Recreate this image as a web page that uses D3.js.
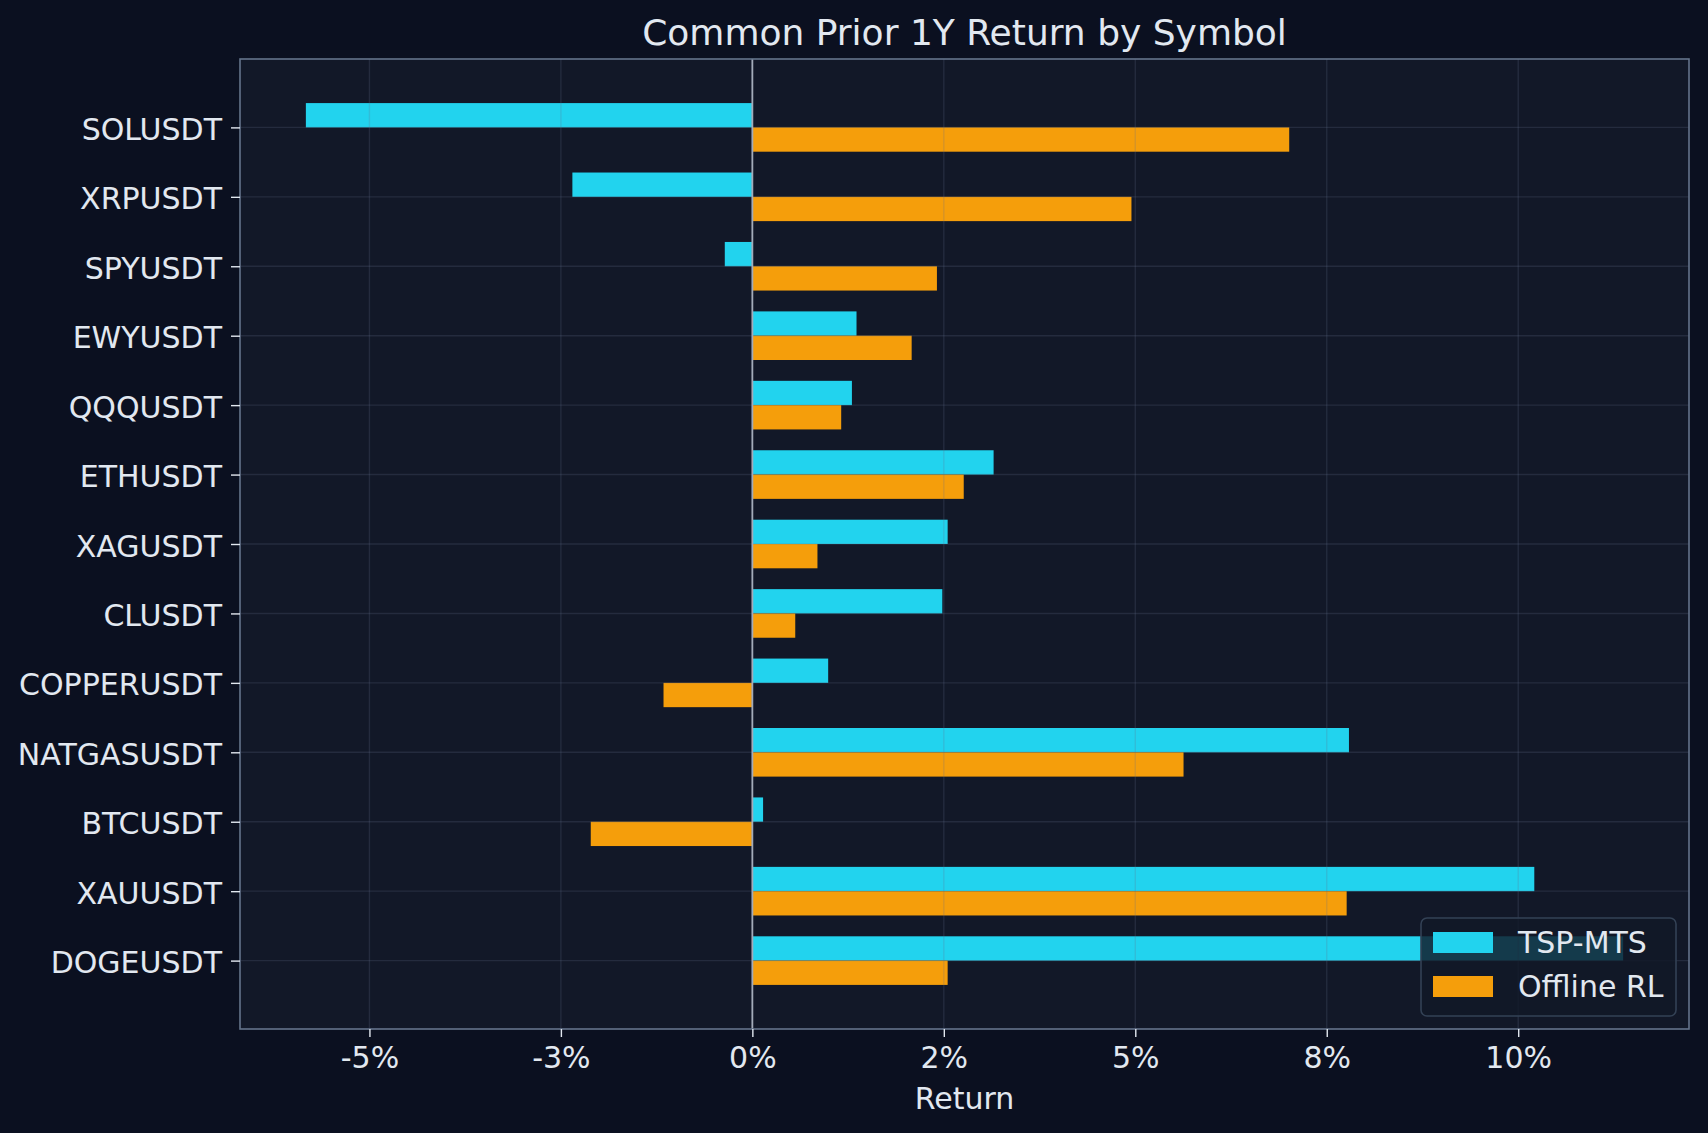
<!DOCTYPE html>
<html lang="en">
<head>
    <meta charset="UTF-8">
    <title>Common Prior 1Y Return by Symbol</title>
    <script src="https://d3js.org/d3.v7.min.js"></script>
    <style>
        body {
            margin: 0;
            padding: 0;
            background: #0b1020;
            overflow: hidden;
        }
        text {
            font-family: 'DejaVu Sans', sans-serif;
            fill: #e2e8f0;
        }
        .grid line {
            stroke: #64748b;
            stroke-width: 1.4px;
            stroke-opacity: 0.22;
        }
    </style>
</head>
<body>
<div id="chart"></div>

<script>
// symbols, top to bottom
const symbols = ["SOLUSDT", "XRPUSDT", "SPYUSDT", "EWYUSDT", "QQQUSDT", "ETHUSDT", "XAGUSDT",
    "CLUSDT", "COPPERUSDT", "NATGASUSDT", "BTCUSDT", "XAUUSDT", "DOGEUSDT"];

// prior 1Y return in percent
const tspMts = [-5.83, -2.35, -0.36, 1.36, 1.30, 3.15, 2.55, 2.48, 0.99, 7.79, 0.14, 10.21, 11.37];
const offlineRl = [7.01, 4.95, 2.41, 2.08, 1.16, 2.76, 0.85, 0.56, -1.16, 5.63, -2.11, 7.76, 2.55];

const seriesNames = ["TSP-MTS", "Offline RL"];
const seriesColors = ["#22d3ee", "#f59e0b"];

const xTicks = [-5, -2.5, 0, 2.5, 5, 7.5, 10];
const xTickLabels = ["-5%", "-3%", "0%", "2%", "5%", "8%", "10%"];

const W = 1708, H = 1133;
const m = {left: 240, right: 1689, top: 59, bottom: 1029};
const barH = 0.35;

const svg = d3.select("#chart").append("svg")
    .attr("width", W)
    .attr("height", H);

svg.append("rect").attr("width", W).attr("height", H).attr("fill", "#0b1020");

// x domain with 5% padding like matplotlib
const allVals = tspMts.concat(offlineRl);
const lo = Math.min(0, d3.min(allVals)), hi = Math.max(0, d3.max(allVals));
const pad = (hi - lo) * 0.05;
const x = d3.scaleLinear().domain([lo - pad, hi + pad]).range([m.left, m.right]);

const yLo = -barH, yHi = symbols.length - 1 + barH;
const yPad = (yHi - yLo) * 0.05;
const y = d3.scaleLinear().domain([yLo - yPad, yHi + yPad]).range([m.top, m.bottom]);

// axes background
svg.append("rect")
    .attr("x", m.left).attr("y", m.top)
    .attr("width", m.right - m.left).attr("height", m.bottom - m.top)
    .attr("fill", "#121828");

// bars
const bars = svg.append("g");
bars.selectAll("rect.tsp")
    .data(tspMts)
    .enter().append("rect")
    .attr("class", "tsp")
    .attr("x", d => x(Math.min(0, d)))
    .attr("width", d => Math.abs(x(d) - x(0)))
    .attr("y", (d, i) => y(i - barH))
    .attr("height", y(barH) - y(0))
    .attr("fill", seriesColors[0]);

bars.selectAll("rect.off")
    .data(offlineRl)
    .enter().append("rect")
    .attr("class", "off")
    .attr("x", d => x(Math.min(0, d)))
    .attr("width", d => Math.abs(x(d) - x(0)))
    .attr("y", (d, i) => y(i))
    .attr("height", y(barH) - y(0))
    .attr("fill", seriesColors[1]);

// grid on top of bars, faint
const grid = svg.append("g").attr("class", "grid");
grid.selectAll("line.gx")
    .data(xTicks)
    .enter().append("line")
    .attr("x1", d => x(d)).attr("x2", d => x(d))
    .attr("y1", m.top).attr("y2", m.bottom);
grid.selectAll("line.gy")
    .data(symbols)
    .enter().append("line")
    .attr("x1", m.left).attr("x2", m.right)
    .attr("y1", (d, i) => y(i)).attr("y2", (d, i) => y(i));

// zero line
svg.append("line")
    .attr("x1", x(0)).attr("x2", x(0))
    .attr("y1", m.top).attr("y2", m.bottom)
    .attr("stroke", "#a3abb9")
    .attr("stroke-width", 1.8);

// frame
svg.append("rect")
    .attr("x", m.left).attr("y", m.top)
    .attr("width", m.right - m.left).attr("height", m.bottom - m.top)
    .attr("fill", "none")
    .attr("stroke", "#64748b")
    .attr("stroke-width", 1.6);

// x axis
const xAxis = d3.axisBottom(x)
    .tickValues(xTicks)
    .tickFormat((d, i) => xTickLabels[i])
    .tickSize(8)
    .tickPadding(8);
const gx = svg.append("g")
    .attr("transform", "translate(0," + m.bottom + ")")
    .call(xAxis);
gx.select(".domain").remove();
gx.selectAll(".tick line").attr("stroke", "#e2e8f0").attr("stroke-width", 1.4);
gx.selectAll(".tick text")
    .attr("fill", "#e2e8f0")
    .style("font-size", "30px")
    .attr("dy", "0.75em");

// y axis
const yAxis = d3.axisLeft(y)
    .tickValues(d3.range(symbols.length))
    .tickFormat(i => symbols[i])
    .tickSize(9)
    .tickPadding(9);
const gy = svg.append("g")
    .attr("transform", "translate(" + m.left + ",0)")
    .call(yAxis);
gy.select(".domain").remove();
gy.selectAll(".tick line").attr("stroke", "#e2e8f0").attr("stroke-width", 1.4);
gy.selectAll(".tick text")
    .attr("fill", "#e2e8f0")
    .style("font-size", "30px")
    .attr("dy", "0.4em");

// title and axis label
svg.append("text")
    .attr("x", (m.left + m.right) / 2)
    .attr("y", 45)
    .attr("text-anchor", "middle")
    .style("font-size", "36px")
    .text("Common Prior 1Y Return by Symbol");

svg.append("text")
    .attr("x", (m.left + m.right) / 2)
    .attr("y", 1109)
    .attr("text-anchor", "middle")
    .style("font-size", "30px")
    .text("Return");

// legend
const legend = svg.append("g").attr("transform", "translate(1421,918)");
legend.append("rect")
    .attr("width", 255).attr("height", 98)
    .attr("rx", 6)
    .attr("fill", "#111827")
    .attr("fill-opacity", 0.82)
    .attr("stroke", "#334155")
    .attr("stroke-width", 1.6);

const item = legend.selectAll("g.item")
    .data(seriesNames)
    .enter().append("g")
    .attr("transform", (d, i) => "translate(12," + (14 + i * 44) + ")");
item.append("rect")
    .attr("width", 60).attr("height", 21)
    .attr("fill", (d, i) => seriesColors[i]);
item.append("text")
    .attr("x", 85)
    .attr("y", 21)
    .style("font-size", "30px")
    .text(d => d);
</script>
</body>
</html>
